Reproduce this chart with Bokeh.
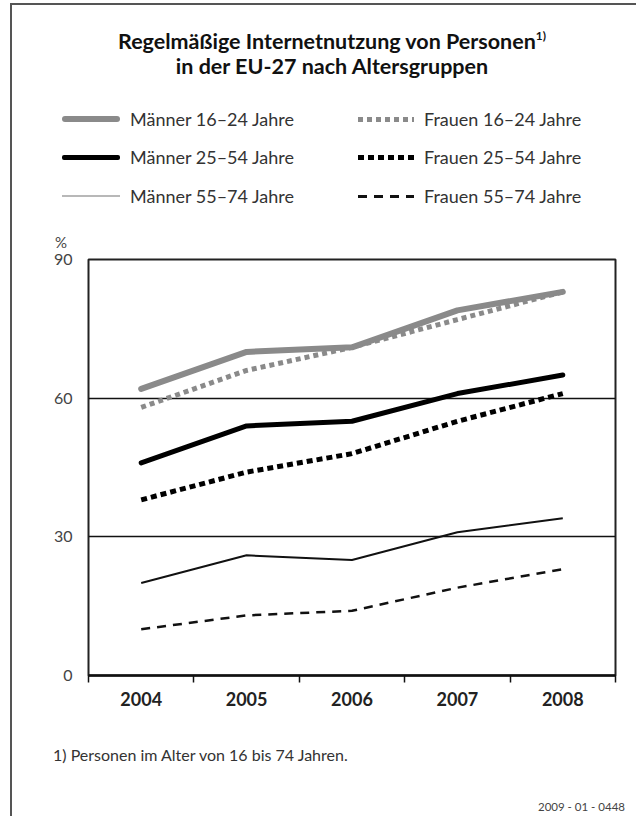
from bokeh.plotting import figure
from bokeh.models import Range1d, FixedTicker, Div
from bokeh.layouts import column
from bokeh.embed import file_html
from bokeh.resources import INLINE

# ---- data ----
years = [2004, 2005, 2006, 2007, 2008]
year_labels = ["2004", "2005", "2006", "2007", "2008"]
maenner_16_24 = [62, 70, 71, 79, 83]
frauen_16_24 = [58, 66, 71, 77, 83]
maenner_25_54 = [46, 54, 55, 61, 65]
frauen_25_54 = [38, 44, 48, 55, 61]
maenner_55_74 = [20, 26, 25, 31, 34]
frauen_55_74 = [10, 13, 14, 19, 23]
y_ticks = [0, 30, 60, 90]
grid_ticks = [30, 60]

title_l1 = "Regelmäßige Internetnutzung von Personen<sup style='font-size:0.55em;vertical-align:0.75em'>1)</sup>"
title_l2 = "in der EU-27 nach Altersgruppen"
footnote = "1) Personen im Alter von 16 bis 74 Jahren."
code = "2009 - 01 - 0448"
legend_labels = ["Männer 16–24 Jahre", "Männer 25–54 Jahre", "Männer 55–74 Jahre",
                 "Frauen 16–24 Jahre", "Frauen 25–54 Jahre", "Frauen 55–74 Jahre"]

FONT = "Lato"
W = 636
TOP_H, MAIN_H, BOT_H = 250, 475, 91

grey = "#8a8a8a"
# legend swatch styles (CSS), in the same order as legend_labels
swatches = [
    f"height:6px;background:{grey};border-radius:3px",
    "height:5px;background:#000;border-radius:2px",
    "height:2px;background:#b8b8b8",
    f"height:5px;background:repeating-linear-gradient(to right,{grey} 0 5px,transparent 5px 9px)",
    "height:5px;background:repeating-linear-gradient(to right,#000 0 6px,transparent 6px 10px)",
    "height:3px;background:repeating-linear-gradient(to right,#111 0 9px,transparent 9px 16px)",
]
swatch_h = [6, 5, 2, 5, 5, 3]

# ---------- top block: title + legend ----------
row_c = [119, 157, 196]
col_sw = [(62, 58, 130), (358, 56, 424)]   # swatch left, swatch width, label left
html = [f"<div style='position:relative;width:{W}px;height:{TOP_H}px;font-family:{FONT};'>"]
html.append(f"<div style='position:absolute;left:332px;top:30px;transform:translateX(-50%);"
            f"white-space:nowrap;font-size:21.5px;line-height:1;font-weight:bold;color:#111'>{title_l1}</div>")
html.append(f"<div style='position:absolute;left:332px;top:56px;transform:translateX(-50%);"
            f"white-space:nowrap;font-size:21.5px;line-height:1;font-weight:bold;color:#111'>{title_l2}</div>")
for i, lab in enumerate(legend_labels):
    c, r = divmod(i, 3)
    sx, sw, lx = col_sw[c]
    cy = row_c[r]
    html.append(f"<div style='position:absolute;left:{sx}px;top:{cy - swatch_h[i] / 2}px;"
                f"width:{sw}px;{swatches[i]}'></div>")
    html.append(f"<div style='position:absolute;left:{lx}px;top:{cy - 9.5}px;white-space:nowrap;"
                f"font-size:18px;line-height:1;color:#333'>{lab}</div>")
html.append("<div style='position:absolute;left:55px;top:235px;font-size:15px;line-height:1;"
            "color:#444'>%</div>")
html.append("</div>")
top = Div(text="".join(html), width=W, height=TOP_H, styles={"margin": "0", "padding": "0"})

# ---------- main chart ----------
p = figure(width=W, height=MAIN_H, output_backend="svg", toolbar_location=None,
           x_range=Range1d(years[0] - 0.5, years[-1] + 0.5),
           y_range=Range1d(y_ticks[0], y_ticks[-1]),
           min_border_left=88, min_border_right=21,
           min_border_top=9, min_border_bottom=50)
p.outline_line_color = "#222222"
p.outline_line_width = 2
p.background_fill_color = "white"
p.border_fill_color = None

p.xgrid.visible = False
p.ygrid.ticker = FixedTicker(ticks=grid_ticks)
p.ygrid.grid_line_color = "#111111"
p.ygrid.grid_line_width = 1.5

xa = p.xaxis[0]
xa.ticker = FixedTicker(ticks=years,
                        minor_ticks=[y - 0.5 for y in years] + [years[-1] + 0.5])
xa.major_label_overrides = {y: l for y, l in zip(years, year_labels)}
xa.major_tick_out = 0
xa.major_tick_in = 0
xa.major_tick_line_color = None
xa.minor_tick_out = 7
xa.minor_tick_in = 0
xa.minor_tick_line_color = "#111111"
xa.minor_tick_line_width = 1.5
xa.axis_line_color = "#111111"
xa.axis_line_width = 2.5
xa.major_label_standoff = 9
xa.major_label_text_font = FONT
xa.major_label_text_font_size = "18px"
xa.major_label_text_font_style = "bold"
xa.major_label_text_color = "#222222"

ya = p.yaxis[0]
ya.ticker = FixedTicker(ticks=y_ticks)
ya.axis_line_color = None
ya.major_tick_line_color = None
ya.minor_tick_line_color = None
ya.major_tick_out = 0
ya.major_tick_in = 0
ya.major_label_standoff = 16
ya.major_label_text_font = FONT
ya.major_label_text_font_size = "16px"
ya.major_label_text_color = "#444444"

p.line(years, maenner_16_24, line_color=grey, line_width=6, line_cap="round")
p.line(years, frauen_16_24, line_color=grey, line_width=5, line_dash="5 4")
p.line(years, maenner_25_54, line_color="#000000", line_width=5, line_cap="round")
p.line(years, frauen_25_54, line_color="#000000", line_width=5, line_dash="6 4")
p.line(years, maenner_55_74, line_color="#111111", line_width=2)
p.line(years, frauen_55_74, line_color="#111111", line_width=2.5, line_dash="9 7")

# ---------- bottom block: footnote + code ----------
bhtml = (f"<div style='position:relative;width:{W}px;height:{BOT_H}px;font-family:{FONT};'>"
         f"<div style='position:absolute;left:53px;top:22px;white-space:nowrap;font-size:16px;"
         f"line-height:1;color:#333'>{footnote}</div>"
         f"<div style='position:absolute;left:538px;top:76px;white-space:nowrap;font-size:11.5px;"
         f"line-height:1;color:#444'>{code}</div></div>")
bot = Div(text=bhtml, width=W, height=BOT_H, styles={"margin": "0", "padding": "0"})

layout = column(top, p, bot, spacing=0)
layout.styles = {"box-shadow": "inset 10px 3px 0 0 #ffffff, inset 12px 5px 0 0 #555555"}

open("out.html", "w").write(file_html(layout, INLINE))
